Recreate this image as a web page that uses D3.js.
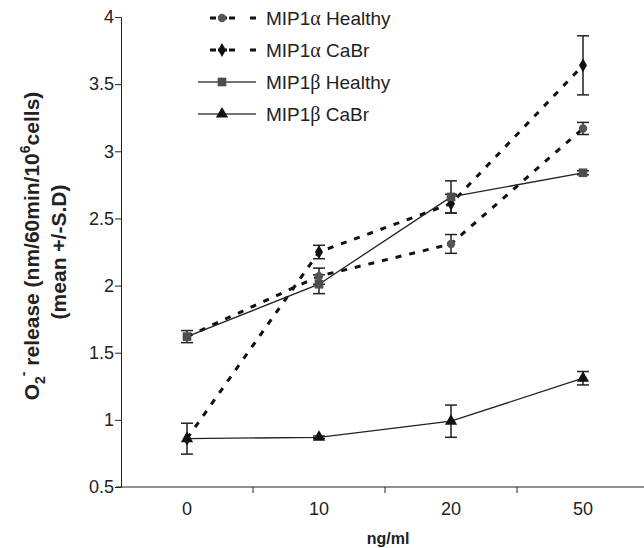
<!DOCTYPE html>
<html>
<head>
<meta charset="utf-8">
<script src="https://cdn.jsdelivr.net/npm/d3@7"></script>
<style>
  body { margin: 0; background: #fff; }
  svg text { font-family: "Liberation Sans", Arial, sans-serif; fill: #222; }
</style>
</head>
<body>
<main></main>
<script>
// doses on the x axis
const doses = ["0", "10", "20", "50"];
const yTicks = [0.5, 1, 1.5, 2, 2.5, 3, 3.5, 4];

// means and S.D.
const alphaHealthy = [1.62, 2.07, 2.31, 3.17];
const alphaHealthySD = [0.0, 0.06, 0.07, 0.045];
const alphaCaBr = [0.86, 2.25, 2.61, 3.64];
const alphaCaBrSD = [0.0, 0.05, 0.07, 0.22];
const betaHealthy = [1.62, 2.01, 2.66, 2.84];
const betaHealthySD = [0.045, 0.07, 0.12, 0.015];
const betaCaBr = [0.86, 0.87, 0.99, 1.31];
const betaCaBrSD = [0.115, 0.01, 0.12, 0.05];

const series = [
  {greek: "α", name: " Healthy", values: alphaHealthy, sd: alphaHealthySD, dashed: true, shape: "circle", color: "#555"},
  {greek: "α", name: " CaBr", values: alphaCaBr, sd: alphaCaBrSD, dashed: true, shape: "diamond", color: "#111"},
  {greek: "β", name: " Healthy", values: betaHealthy, sd: betaHealthySD, dashed: false, shape: "square", color: "#4d4d4d"},
  {greek: "β", name: " CaBr", values: betaCaBr, sd: betaCaBrSD, dashed: false, shape: "triangle", color: "#111"}
];

let drawChart = (w = 644, h = 548) => {
  const margin = ({top: 17, right: -5, bottom: 61, left: 121});

  let x = d3.scaleBand()
    .domain(doses)
    .range([margin.left, w - margin.right]);

  let y = d3.scaleLinear()
    .domain([0.5, 4])
    .range([h - margin.bottom, margin.top]);

  let svg = d3.select("main")
    .append("svg")
    .attr("width", w)
    .attr("height", h)
    .attr("viewBox", `0 0 ${w} ${h}`);

  // y axis
  svg.append("g")
    .attr("transform", `translate(${margin.left},0)`)
    .call(d3.axisLeft(y).tickValues(yTicks).tickSize(6).tickSizeOuter(0).tickFormat(d3.format("")))
    .call(g => g.selectAll("text").attr("font-size", 18).attr("font-family", "Liberation Sans, Arial, sans-serif").attr("fill", "#222").attr("x", -7))
    .call(g => g.selectAll("line, path").attr("stroke", "#222"));

  // x axis: ticks sit between the categories
  let xAxis = svg.append("g")
    .attr("transform", `translate(0,${y(0.5)})`);
  xAxis.append("line")
    .attr("x1", margin.left - 5).attr("x2", w)
    .attr("stroke", "#222");
  xAxis.selectAll(".tk")
    .data(doses.slice(1))
    .join("line")
      .attr("x1", d => x(d)).attr("x2", d => x(d))
      .attr("y1", 0).attr("y2", 6)
      .attr("stroke", "#222");
  xAxis.selectAll("text")
    .data(doses)
    .join("text")
      .attr("x", d => x(d) + x.bandwidth() / 2)
      .attr("y", 28)
      .attr("text-anchor", "middle")
      .attr("font-size", 18)
      .text(d => d);

  svg.append("text")
    .attr("x", 388).attr("y", 544)
    .attr("text-anchor", "middle")
    .attr("font-size", 16)
    .attr("font-weight", "bold")
    .text("ng/ml");

  // y title, two lines
  let title = svg.append("g")
    .attr("transform", "rotate(-90)")
    .attr("font-weight", "bold")
    .attr("font-size", 21);
  let t1 = title.append("text").attr("text-anchor", "middle").attr("x", -246).attr("y", 39);
  t1.append("tspan").text("O");
  t1.append("tspan").attr("font-size", 14).attr("dy", 6).text("2");
  t1.append("tspan").attr("font-size", 14).attr("dy", -17).text("-");
  t1.append("tspan").attr("dy", 11).text(" release (nm/60min/10");
  t1.append("tspan").attr("font-size", 14).attr("dy", -9).text("6");
  t1.append("tspan").attr("dy", 9).text("cells)");
  title.append("text").attr("text-anchor", "middle").attr("x", -252).attr("y", 66).text("(mean +/-S.D)");

  const cx = i => x(doses[i]) + x.bandwidth() / 2;

  let line = d3.line()
    .x((d, i) => cx(i))
    .y(d => y(d));

  let symbolOf = shape => ({
    circle: d3.symbol(d3.symbolCircle, 55),
    diamond: d3.symbol(d3.symbolDiamond, 55),
    square: d3.symbol(d3.symbolSquare, 75),
    triangle: d3.symbol(d3.symbolTriangle, 65)
  })[shape];

  // lines
  svg.append("g")
    .selectAll("path")
    .data(series)
    .join("path")
      .attr("d", s => line(s.values))
      .attr("fill", "none")
      .attr("stroke", s => s.dashed ? "#111" : "#222")
      .attr("stroke-width", s => s.dashed ? 3 : 1.3)
      .attr("stroke-dasharray", s => s.dashed ? "6,8" : null);

  // error bars
  let eb = svg.append("g")
    .selectAll("g")
    .data(series.flatMap(s => s.values.map((v, i) => ({v, sd: s.sd[i], i}))).filter(d => d.sd > 0))
    .join("g")
      .attr("stroke", "#222")
      .attr("stroke-width", 1.5);
  eb.append("line")
    .attr("x1", d => cx(d.i)).attr("x2", d => cx(d.i))
    .attr("y1", d => y(d.v - d.sd)).attr("y2", d => y(d.v + d.sd));
  eb.append("line")
    .attr("x1", d => cx(d.i) - 6).attr("x2", d => cx(d.i) + 6)
    .attr("y1", d => y(d.v - d.sd)).attr("y2", d => y(d.v - d.sd));
  eb.append("line")
    .attr("x1", d => cx(d.i) - 6).attr("x2", d => cx(d.i) + 6)
    .attr("y1", d => y(d.v + d.sd)).attr("y2", d => y(d.v + d.sd));

  // markers
  svg.append("g")
    .selectAll("g")
    .data(series)
    .join("g")
      .attr("fill", s => s.color)
    .selectAll("path")
    .data(s => s.values.map((v, i) => ({v, i, shape: s.shape})))
    .join("path")
      .attr("transform", d => `translate(${cx(d.i)},${y(d.v)})`)
      .attr("d", d => symbolOf(d.shape)());

  // legend
  let lg = svg.append("g")
    .selectAll("g")
    .data(series)
    .join("g")
      .attr("transform", (d, i) => `translate(210,${18 + i * 32})`);
  lg.append("line")
    .attr("x1", s => s.dashed ? 0 : -12).attr("x2", 46)
    .attr("stroke", s => s.dashed ? "#111" : "#444")
    .attr("stroke-width", s => s.dashed ? 3 : 1.3)
    .attr("stroke-dasharray", s => s.dashed ? "6,2,9,2,6,15" : null);
  lg.append("path")
    .attr("transform", "translate(12,0)")
    .attr("fill", s => s.color)
    .attr("d", s => symbolOf(s.shape)());
  let lt = lg.append("text")
    .attr("x", 56).attr("y", 6.5)
    .attr("font-size", 19);
  lt.append("tspan").text("MIP1");
  lt.append("tspan").attr("font-family", "Liberation Serif, serif").attr("font-size", 20).text(s => s.greek);
  lt.append("tspan").text(s => s.name);
};

drawChart();
</script>
</body>
</html>
